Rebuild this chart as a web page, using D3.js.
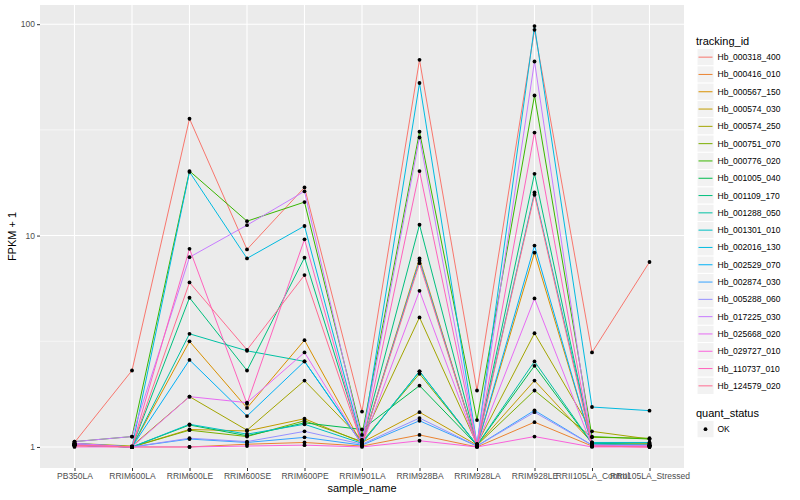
<!DOCTYPE html>
<html>
<head>
<meta charset="utf-8">
<title>FPKM by sample</title>
<script src="https://cdn.jsdelivr.net/npm/d3@7"></script>
<style>
body { margin: 0; background: #FFFFFF; }
text { font-family: "Liberation Sans", Arial, Helvetica, sans-serif; }
</style>
</head>
<body>
<script>

// samples on the x axis
var samples = ["PB350LA", "RRIM600LA", "RRIM600LE", "RRIM600SE", "RRIM600PE", "RRIM901LA",
               "RRIM928BA", "RRIM928LA", "RRIM928LE", "RRII105LA_Control", "RRII105LA_Stressed"];

// tracking ids (legend order)
var trackingIds = ["Hb_000318_400", "Hb_000416_010", "Hb_000567_150", "Hb_000574_030", "Hb_000574_250",
                   "Hb_000751_070", "Hb_000776_020", "Hb_001005_040", "Hb_001109_170", "Hb_001288_050",
                   "Hb_001301_010", "Hb_002016_130", "Hb_002529_070", "Hb_002874_030", "Hb_005288_060",
                   "Hb_017225_030", "Hb_025668_020", "Hb_029727_010", "Hb_110737_010", "Hb_124579_020"];

// FPKM + 1, one row per tracking id, one value per sample
var fpkm = [
  [1.05, 2.30, 35.7, 8.6, 16.9, 1.47, 67.8, 1.85, 94, 2.80, 7.5],
  [1.01, 1.00, 1.00, 1.03, 1.05, 1.01, 1.14, 1.00, 1.31, 1.01, 1.01],
  [1.03, 1.00, 3.16, 1.53, 3.20, 1.03, 7.8, 1.01, 8.3, 1.03, 1.02],
  [1.02, 1.00, 1.21, 1.19, 1.36, 1.05, 1.46, 1.02, 2.06, 1.05, 1.04],
  [1.04, 1.01, 1.73, 1.20, 2.06, 1.08, 4.1, 1.03, 3.45, 1.185, 1.09],
  [1.03, 1.00, 1.20, 1.12, 1.33, 1.06, 2.22, 1.02, 1.85, 1.11, 1.10],
  [1.06, 1.12, 20.2, 11.7, 14.4, 1.14, 31.0, 1.34, 46, 1.12, 1.09],
  [1.02, 1.00, 1.27, 1.13, 1.30, 1.21, 1.95, 1.02, 2.42, 1.04, 1.03],
  [1.02, 1.00, 5.08, 2.30, 7.86, 1.05, 11.25, 1.02, 19.6, 1.03, 1.02],
  [1.03, 1.00, 3.43, 2.85, 2.54, 1.04, 2.28, 1.02, 2.54, 1.04, 1.02],
  [1.02, 1.00, 1.28, 1.15, 1.28, 1.04, 2.28, 1.02, 16.0, 1.05, 1.05],
  [1.04, 1.00, 20.0, 7.8, 11.1, 1.05, 52.7, 1.03, 98, 1.545, 1.485],
  [1.02, 1.00, 2.58, 1.40, 2.54, 1.03, 7.6, 1.01, 8.97, 1.02, 1.01],
  [1.02, 1.00, 1.09, 1.05, 1.11, 1.02, 1.33, 1.01, 1.49, 1.02, 1.01],
  [1.03, 1.00, 1.10, 1.06, 1.185, 1.03, 1.37, 1.01, 1.46, 1.02, 1.01],
  [1.06, 1.12, 7.9, 11.2, 16.2, 1.08, 29.1, 1.03, 66.6, 1.02, 1.02],
  [1.04, 1.00, 1.73, 1.62, 2.80, 1.02, 5.48, 1.01, 5.04, 1.01, 1.01],
  [1.00, 1.00, 1.00, 1.01, 1.02, 1.00, 1.07, 1.00, 1.12, 1.00, 1.00],
  [1.02, 1.00, 8.66, 1.60, 9.6, 1.02, 20.2, 1.01, 30.7, 1.01, 1.00],
  [1.02, 1.00, 6.0, 2.88, 6.5, 1.03, 7.4, 1.01, 15.6, 1.01, 1.00]
];

var yTicks = [1, 10, 100];
var yMinor = [Math.sqrt(10), Math.sqrt(1000)];
var quantStatus = ["OK"];

// ggplot hue palette for 20 groups
var palette = ["#F8766D", "#EA8331", "#D89000", "#C09B00", "#A3A500", "#7CAE00", "#39B600", "#00BB4E",
               "#00BF7D", "#00C1A3", "#00BFC4", "#00BAE0", "#00B0F6", "#35A2FF", "#9590FF", "#C77CFF",
               "#E76BF3", "#FA62DB", "#FF62BC", "#FF6C91"];

var W = 800, H = 500;
var panel = {left: 40, right: 684, top: 5, bottom: 468};

var series = trackingIds.map(function(id, i) {
  return {id: id, values: samples.map(function(s, j) { return {sample: s, val: fpkm[i][j]}; })};
});
var allPoints = [];
series.forEach(function(s) { s.values.forEach(function(v) { allPoints.push(v); }); });

var svg = d3.select("body").append("svg")
  .attr("width", W)
  .attr("height", H);

// scales
var x = d3.scalePoint()
  .domain(samples)
  .range([panel.left, panel.right])
  .padding(0.6);

var ext = d3.extent(allPoints, function(d) { return Math.log10(d.val); });
var pad = (ext[1] - ext[0]) * 0.05;
var y = d3.scaleLog()
  .domain([Math.pow(10, ext[0] - pad), Math.pow(10, ext[1] + pad)])
  .range([panel.bottom, panel.top]);

var color = d3.scaleOrdinal().domain(trackingIds).range(palette);

// panel + grid
svg.append("rect")
  .attr("x", panel.left).attr("y", panel.top)
  .attr("width", panel.right - panel.left).attr("height", panel.bottom - panel.top)
  .attr("fill", "#EBEBEB");

svg.append("g").selectAll("line")
  .data(yMinor).enter().append("line")
  .attr("x1", panel.left).attr("x2", panel.right)
  .attr("y1", function(d) { return y(d); }).attr("y2", function(d) { return y(d); })
  .attr("stroke", "#FFFFFF").attr("stroke-width", 0.55);

svg.append("g").selectAll("line")
  .data(yTicks).enter().append("line")
  .attr("x1", panel.left).attr("x2", panel.right)
  .attr("y1", function(d) { return y(d); }).attr("y2", function(d) { return y(d); })
  .attr("stroke", "#FFFFFF").attr("stroke-width", 1.1);

svg.append("g").selectAll("line")
  .data(samples).enter().append("line")
  .attr("x1", function(d) { return x(d); }).attr("x2", function(d) { return x(d); })
  .attr("y1", panel.top).attr("y2", panel.bottom)
  .attr("stroke", "#FFFFFF").attr("stroke-width", 1.1);

// axes
var xAxis = svg.append("g")
  .attr("transform", "translate(0," + panel.bottom + ")")
  .call(d3.axisBottom(x).tickSize(3).tickPadding(2));
xAxis.select(".domain").remove();
xAxis.selectAll("line").attr("stroke", "#333333");
xAxis.selectAll("text").attr("fill", "#4D4D4D").style("font-size", "8.5px");

var yAxis = svg.append("g")
  .attr("transform", "translate(" + panel.left + ",0)")
  .call(d3.axisLeft(y).tickValues(yTicks).tickFormat(d3.format("d")).tickSize(3).tickPadding(2));
yAxis.select(".domain").remove();
yAxis.selectAll("line").attr("stroke", "#333333");
yAxis.selectAll("text").attr("fill", "#4D4D4D").style("font-size", "8.5px");

// lines
var line = d3.line()
  .x(function(d) { return x(d.sample); })
  .y(function(d) { return y(d.val); });

svg.append("g").selectAll("path")
  .data(series).enter().append("path")
  .attr("d", function(d) { return line(d.values); })
  .attr("fill", "none")
  .attr("stroke", function(d) { return color(d.id); })
  .attr("stroke-width", 1);

// points
svg.append("g").selectAll("circle")
  .data(allPoints).enter().append("circle")
  .attr("cx", function(d) { return x(d.sample); })
  .attr("cy", function(d) { return y(d.val); })
  .attr("r", 1.9)
  .attr("fill", "#000000");

// axis titles
svg.append("text")
  .attr("x", (panel.left + panel.right) / 2)
  .attr("y", 492)
  .attr("text-anchor", "middle")
  .style("font-size", "11px")
  .text("sample_name");

svg.append("g")
  .attr("transform", "translate(16," + (panel.top + panel.bottom) / 2 + ")")
  .append("text")
  .attr("text-anchor", "middle")
  .attr("transform", "rotate(-90)")
  .style("font-size", "11px")
  .text("FPKM + 1");

// legend: tracking_id
var legX = 697, keyW = 17, keyH = 17.3, legTop = 48.5;
var leg = svg.append("g");
leg.append("text")
  .attr("x", legX - 1).attr("y", 45)
  .style("font-size", "11px")
  .text("tracking_id");

var keys = leg.selectAll("g.key")
  .data(trackingIds).enter().append("g")
  .attr("class", "key")
  .attr("transform", function(d, i) { return "translate(" + legX + "," + (legTop + i * keyH) + ")"; });
keys.append("rect")
  .attr("width", keyW).attr("height", keyH)
  .attr("fill", "#F2F2F2").attr("stroke", "#FFFFFF").attr("stroke-width", 1);
keys.append("line")
  .attr("x1", 1.5).attr("x2", keyW - 1.5)
  .attr("y1", keyH / 2).attr("y2", keyH / 2)
  .attr("stroke", function(d) { return color(d); })
  .attr("stroke-width", 1);
keys.append("text")
  .attr("x", keyW + 3.5).attr("y", keyH / 2 + 3)
  .style("font-size", "8.5px")
  .text(function(d) { return d; });

// legend: quant_status
var qTop = 420.5;
leg.append("text")
  .attr("x", legX - 1).attr("y", 416.5)
  .style("font-size", "11px")
  .text("quant_status");
var qkeys = leg.selectAll("g.qkey")
  .data(quantStatus).enter().append("g")
  .attr("class", "qkey")
  .attr("transform", function(d, i) { return "translate(" + legX + "," + (qTop + i * keyH) + ")"; });
qkeys.append("rect")
  .attr("width", keyW).attr("height", keyH)
  .attr("fill", "#F2F2F2").attr("stroke", "#FFFFFF").attr("stroke-width", 1);
qkeys.append("circle")
  .attr("cx", keyW / 2).attr("cy", keyH / 2).attr("r", 1.9)
  .attr("fill", "#000000");
qkeys.append("text")
  .attr("x", keyW + 3.5).attr("y", keyH / 2 + 3)
  .style("font-size", "8.5px")
  .text(function(d) { return d; });

</script>
</body>
</html>
